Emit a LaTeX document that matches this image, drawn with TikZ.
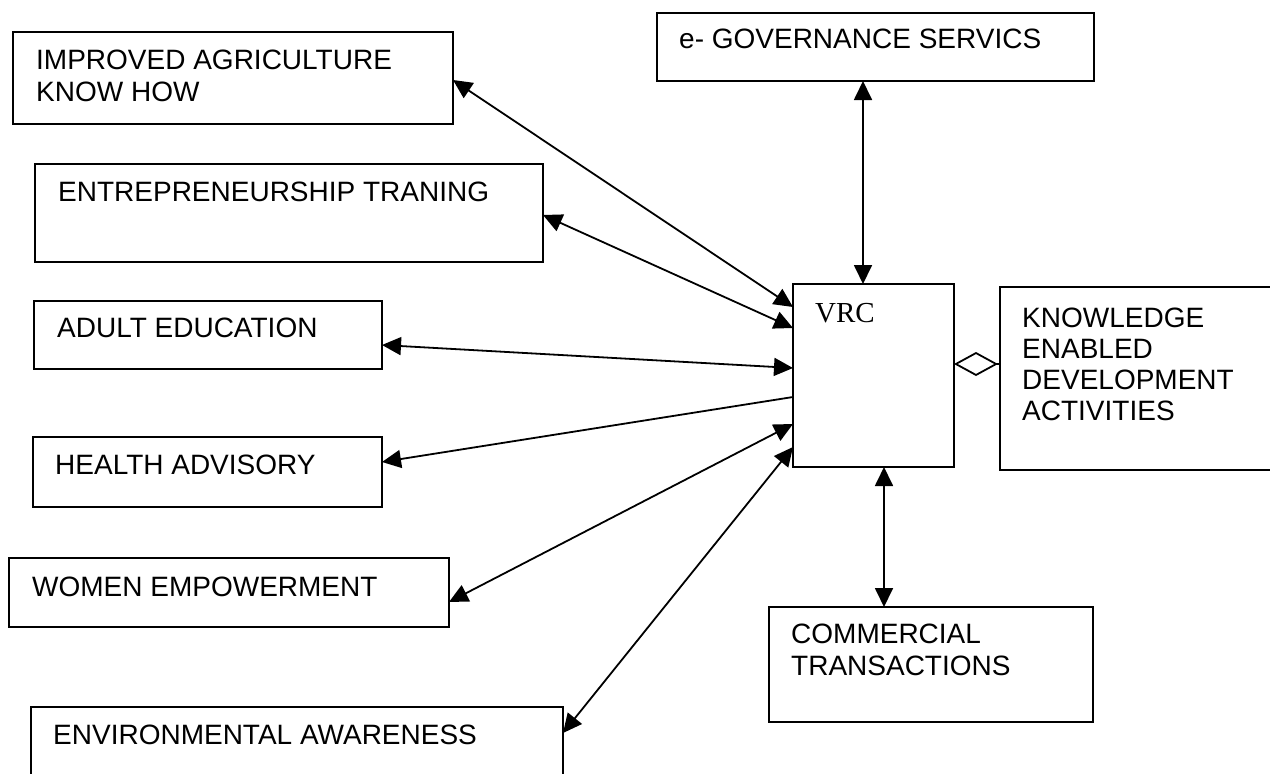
\documentclass[tikz,border=0pt]{standalone}
\usepackage{fontspec}
\setmainfont{Liberation Sans}
\newfontfamily\vrcfont{Liberation Serif}
\usetikzlibrary{arrows.meta,calc}
\begin{document}
\begin{tikzpicture}[x=1pt,y=-1pt,
  box/.style={draw, line width=2pt, anchor=north west, inner sep=0pt, outer sep=0pt},
  lbl/.style={anchor=north west, inner sep=0pt, align=left, font=\fontsize{28}{32}\selectfont},
  link/.style={line width=1.8pt, {Triangle[length=19pt,width=18pt]}-{Triangle[length=19pt,width=18pt]}},
  onelink/.style={line width=1.8pt, -{Triangle[length=19pt,width=18pt]}},
]
\useasboundingbox (0,0) rectangle (1270,774);
\fill[white] (0,0) rectangle (1270,774);
\clip (0,0) rectangle (1270,774);

% left column
\node[box, minimum width=440pt, minimum height=92pt]  (imp) at (13,32)  {};
\node[lbl] (impT) at (36,50) {IMPROVED AGRICULTURE\\KNOW HOW};
\node[box, minimum width=508pt, minimum height=98pt]  (ent) at (35,164) {};
\node[lbl] (entT) at (58,182) {ENTREPRENEURSHIP TRANING};
\node[box, minimum width=348pt, minimum height=68pt]  (adu) at (34,301) {};
\node[lbl] (aduT) at (57,318) {ADULT EDUCATION};
\node[box, minimum width=349pt, minimum height=70pt]  (hea) at (33,437) {};
\node[lbl] (heaT) at (55,455) {HEALTH ADVISORY};
\node[box, minimum width=440pt, minimum height=69pt]  (wom) at (9,558)  {};
\node[lbl] (womT) at (32,577) {WOMEN EMPOWERMENT};
\node[box, minimum width=532pt, minimum height=100pt] (env) at (31,707) {};
\node[lbl] (envT) at (53,725) {ENVIRONMENTAL AWARENESS};

% centre and right
\node[box, minimum width=437pt, minimum height=68pt]  (gov) at (657,13) {};
\node[lbl] (govT) at (679,29) {e- GOVERNANCE SERVICS};
\node[box, minimum width=161pt, minimum height=183pt] (vrc) at (793,284) {};
\node[lbl, font=\vrcfont\fontsize{29}{32}\selectfont] (vrcT) at (815,303) {VRC};
\node[box, minimum width=300pt, minimum height=183pt] (kno) at (1000,287) {};
\node[lbl, font=\fontsize{28}{31}\selectfont] (knoT) at (1022,308) {KNOWLEDGE\\ENABLED\\DEVELOPMENT\\ACTIVITIES};
\node[box, minimum width=324pt, minimum height=115pt] (com) at (769,607) {};
\node[lbl] (comT) at (791,624) {COMMERCIAL\\TRANSACTIONS};

% connectors
\draw[link] ($(imp.north east)+(0,48)$) -- ($(vrc.north west)+(0,23)$);
\draw[link] ($(ent.north east)+(0,51)$) -- ($(vrc.north west)+(0,44)$);
\draw[link] ($(adu.north east)+(0,44)$) -- ($(vrc.north west)+(0,84)$);
\draw[onelink] ($(vrc.north west)+(0,113)$) -- ($(hea.north east)+(0,25)$);
\draw[link] ($(wom.north east)+(0,44)$) -- ($(vrc.north west)+(0,140)$);
\draw[link] ($(env.north east)+(0,26)$) -- ($(vrc.north west)+(0,163)$);
\draw[link] ($(gov.south west)+(206,0)$) -- ($(vrc.north west)+(70,0)$);
\draw[link] ($(vrc.south west)+(91,0)$) -- ($(com.north west)+(115,0)$);
\draw[line width=1.8pt, -{Diamond[open,length=44pt,width=24pt]}]
  ($(kno.north west)+(0,77)$) -- ($(vrc.north east)+(0,80)$);
\end{tikzpicture}
\end{document}
